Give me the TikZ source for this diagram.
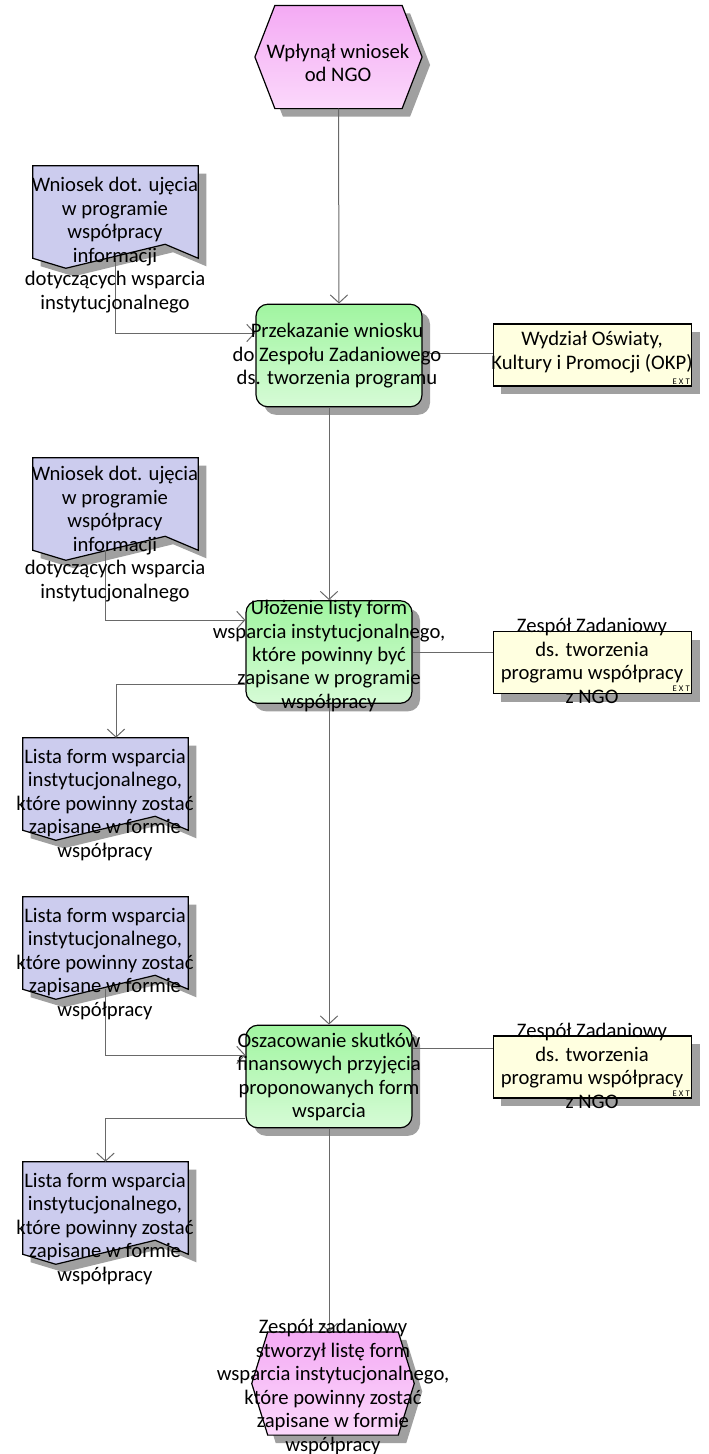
\documentclass[tikz,border=0pt]{standalone}
\usepackage{fontspec}
\setmainfont{Carlito}
\usetikzlibrary{arrows.meta,calc,shadows}
\definecolor{linegray}{RGB}{105,105,105}
\definecolor{shadowgray}{RGB}{160,160,160}
\definecolor{docblue}{RGB}{204,204,238}
\definecolor{extyellow}{RGB}{255,255,224}
\definecolor{greentop}{RGB}{160,245,160}
\definecolor{greenbot}{RGB}{214,251,214}
\definecolor{pinktop}{RGB}{244,170,244}
\definecolor{pinkbot}{RGB}{251,216,251}

\begin{document}
\begin{tikzpicture}[x=0.75pt,y=-0.75pt,
    txt/.style={font=\fontsize{15.5}{17.6}\selectfont,align=center,inner sep=0pt},
    outline/.style={draw=black,line width=0.9pt},
    boxshadow/.style={drop shadow={shadow xshift=6pt,shadow yshift=-6pt,fill=shadowgray,opacity=1}},
    func/.style={outline,boxshadow,rounded corners=9pt,minimum width=124.5pt,minimum height=77pt,
      top color=greentop,bottom color=greenbot},
    ext/.style={outline,boxshadow,fill=extyellow,minimum width=149pt,minimum height=46.5pt},
    slot/.style={inner sep=0pt,minimum width=123.75pt,minimum height=69pt},
    hexslot/.style={inner sep=0pt,minimum width=#1,minimum height=77pt},
    conn/.style={draw=linegray,line width=0.75pt},
    arr/.style={conn,-{Straight Barb[length=6pt,width=13pt]}},
    tag/.style={font=\fontsize{6.5}{7}\selectfont,inner sep=1pt,anchor=south east}]
  \def\hexa#1#2{\draw[outline,boxshadow,top color=pinktop,bottom color=pinkbot]
    (#1.west) -- ([xshift=#2]#1.north west) -- ([xshift=-#2]#1.north east) -- (#1.east)
    -- ([xshift=-#2]#1.south east) -- ([xshift=#2]#1.south west) -- cycle;}
  \def\docu#1{\draw[outline,boxshadow,fill=docblue]
    (#1.north west) -- (#1.north east) -- (#1.south east)
    -- ($(#1.south west)!.8!(#1.south east)+(0,-14)$)
    -- ($(#1.south west)!.2!(#1.south east)+(0,10)$)
    -- (#1.south west) -- cycle;}
  \useasboundingbox (0,0) rectangle (709,1454);

  % events
  \node[hexslot=125pt] (start) at (338.5,57) {};
  \node[hexslot=121.5pt] (end) at (333,1383.5) {};
  \hexa{start}{15pt}
  \hexa{end}{12pt}

  % documents
  \node[slot] (da) at (115.5,212) {};
  \node[slot] (db) at (115.5,504) {};
  \node[slot] (dc) at (105.5,784) {};
  \node[slot] (dd) at (105.5,943) {};
  \node[slot] (de) at (105.5,1208) {};
  \foreach \d in {da,db,dc,dd,de} {\docu{\d}}

  % functions and units
  \node[func] (f1) at (339,355.5) {};
  \node[func] (f2) at (329,652) {};
  \node[func] (f3) at (329,1076.5) {};
  \node[ext] (y1) at (592.5,355) {};
  \node[ext] (y2) at (592.5,662.5) {};
  \node[ext] (y3) at (592.5,1067) {};
  \foreach \y in {y1,y2,y3}
    \node[tag] (\y x) at ([shift={(-1,-1)}]\y.south east) {E\kern1.6pt X\kern1.6pt T};

  % connectors
  \draw[arr] (start.south) -- (f1.north);
  \draw[arr] (da.south) |- ($(f1.west)+(0,-22.5)$);
  \draw[conn] ($(f1.east)+(0,-2.5)$) coordinate (c1) -- (c1 -| y1.west);
  \draw[arr] ($(f1.south)+(-10,0)$) -- (f2.north);
  \draw[arr] ($(db.south)+(-10.5,0)$) |- ($(f2.west)+(0,-32)$);
  \draw[arr] ($(f2.west)+(0,32)$) -| ($(dc.north)+(10.5,0)$);
  \draw[conn] (f2.east) -- (f2.east -| y2.west);
  \draw[arr] (f2.south) -- (f3.north);
  \draw[arr] (dd.south) |- ($(f3.west)+(0,-21.5)$);
  \draw[arr] ($(f3.west)+(0,41.5)$) -| (de.north);
  \draw[conn] ($(f3.east)+(0,-28.5)$) coordinate (c3) -- (c3 -| y3.west);
  \draw[arr] (f3.south) -- (f3.south |- end.north);

  % texts
  \node[txt] (startt) at (338,63) {Wpłynął wniosek\\od NGO};
  \node[txt] (endt) at (333,1387) {Zespół zadaniowy\\stworzył listę form\\wsparcia instytucjonalnego,\\które powinny zostać\\zapisane w formie\\współpracy};
  \foreach \d/\p in {da/{115,245},db/{115,534}}
    \node[txt] (\d t) at (\p) {Wniosek dot. ujęcia\\w programie\\współpracy\\informacji\\dotyczących wsparcia\\instytucjonalnego};
  \foreach \d/\p in {dc/{105,805},dd/{105,964},de/{105,1229}}
    \node[txt] (\d t) at (\p) {Lista form wsparcia\\instytucjonalnego,\\które powinny zostać\\zapisane w formie\\współpracy};
  \node[txt] (f1t) at (337,356) {Przekazanie wniosku\\do Zespołu Zadaniowego\\ds. tworzenia programu};
  \node[txt] (f2t) at (329,656) {Ułożenie listy form\\wsparcia instytucjonalnego,\\które powinny być\\zapisane w programie\\współpracy};
  \node[txt] (f3t) at (329,1077) {Oszacowanie skutków\\finansowych przyjęcia\\proponowanych form\\wsparcia};
  \node[txt] (y1t) at (592,352) {Wydział Oświaty,\\Kultury i Promocji (OKP)};
  \foreach \y/\p in {y2/{592,661},y3/{592,1066}}
    \node[txt] (\y t) at (\p) {Zespół Zadaniowy\\ds. tworzenia\\programu współpracy\\z NGO};
\end{tikzpicture}
\end{document}
